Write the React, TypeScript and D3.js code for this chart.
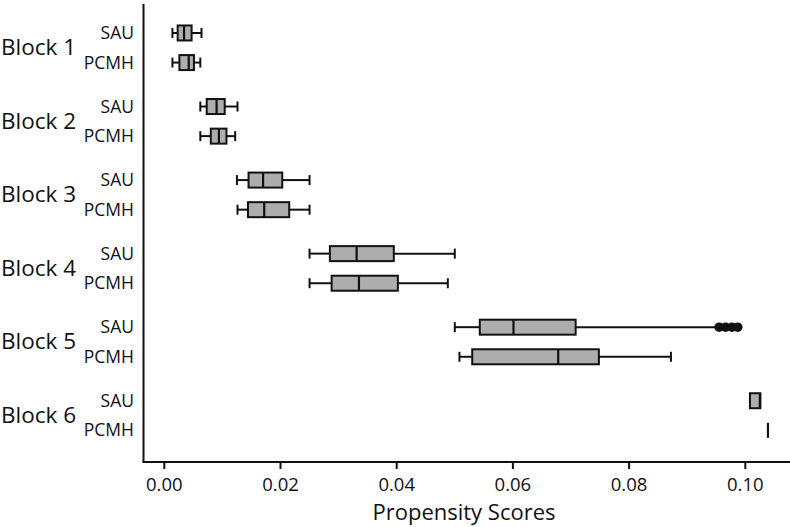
import React from "react";
import * as d3 from "d3";

const blocks = ["Block 1", "Block 2", "Block 3", "Block 4", "Block 5", "Block 6"];
const groups = ["SAU", "PCMH"];
// per block: [SAU, PCMH]
const whiskerLow = [[0.0014, 0.0014], [0.0062, 0.0062], [0.0125, 0.0126], [0.0250, 0.0250], [0.0500, 0.0508], [0.1008, 0.1039]];
const q1 = [[0.0023, 0.0026], [0.0073, 0.0080], [0.0145, 0.0144], [0.0285, 0.0288], [0.0543, 0.0530], [0.1008, 0.1039]];
const median = [[0.0034, 0.0042], [0.0090, 0.0094], [0.0170, 0.0172], [0.0331, 0.0335], [0.0601, 0.0678], [0.1025, 0.1039]];
const q3 = [[0.0047, 0.0051], [0.0104, 0.0107], [0.0203, 0.0215], [0.0395, 0.0402], [0.0708, 0.0748], [0.1026, 0.1039]];
const whiskerHigh = [[0.0064, 0.0062], [0.0126, 0.0122], [0.0250, 0.0250], [0.0500, 0.0488], [0.0951, 0.0872], [0.1026, 0.1039]];
const outliersBlock5SAU = [0.0955, 0.0966, 0.0977, 0.0987];
const xTicks = [0, 0.02, 0.04, 0.06, 0.08, 0.1];

const FONT = "'Open Sans', 'Noto Sans', sans-serif";

export default function App() {
  const W = 790, H = 527;
  const axisX = 143.5, axisY = 462;
  const x = d3.scaleLinear().domain([0, 0.1]).range([164.3, 745.3]);
  const yBlock = d3.scaleBand<string>().domain(blocks).range([11, 11 + 6 * 73.55]).padding(0);
  const rowY = (bi: number, gi: number) =>
    (yBlock(blocks[bi]) as number) + yBlock.bandwidth() / 2 + (gi === 0 ? -14.8 : 14.8);
  const boxH = 15;
  const capH = 10;

  const marks: React.ReactNode[] = [];
  blocks.forEach((b, bi) => {
    groups.forEach((g, gi) => {
      const cy = rowY(bi, gi);
      const lo = whiskerLow[bi][gi], a = q1[bi][gi], m = median[bi][gi], c = q3[bi][gi], hi = whiskerHigh[bi][gi];
      const key = `${bi}-${gi}`;
      if (lo < a) {
        marks.push(<line key={key + "wl"} x1={x(lo)} x2={x(a)} y1={cy} y2={cy} stroke="#111" strokeWidth={2} />);
        marks.push(<line key={key + "cl"} x1={x(lo)} x2={x(lo)} y1={cy - capH / 2} y2={cy + capH / 2} stroke="#111" strokeWidth={2} />);
      }
      if (hi > c) {
        marks.push(<line key={key + "wh"} x1={x(c)} x2={x(hi)} y1={cy} y2={cy} stroke="#111" strokeWidth={2} />);
        if (!(bi === 4 && gi === 0))
          marks.push(<line key={key + "ch"} x1={x(hi)} x2={x(hi)} y1={cy - capH / 2} y2={cy + capH / 2} stroke="#111" strokeWidth={2} />);
      }
      if (c > a) {
        marks.push(
          <rect key={key + "box"} x={x(a)} y={cy - boxH / 2} width={x(c) - x(a)} height={boxH} fill="#adadad" stroke="#111" strokeWidth={2} />
        );
      }
      marks.push(<line key={key + "med"} x1={x(m)} x2={x(m)} y1={cy - boxH / 2} y2={cy + boxH / 2} stroke="#111" strokeWidth={2.2} />);
    });
  });
  outliersBlock5SAU.forEach((v, i) => {
    marks.push(<circle key={"o" + i} cx={x(v)} cy={rowY(4, 0)} r={4.8} fill="#111" />);
  });

  return (
    <svg width={W} height={H} style={{ position: "absolute", left: 0, top: 0, background: "#fff" }} fontFamily={FONT}>
      <line x1={axisX} x2={axisX} y1={4} y2={axisY} stroke="#111" strokeWidth={2} />
      <line x1={axisX - 1} x2={W} y1={axisY} y2={axisY} stroke="#111" strokeWidth={2} />
      {xTicks.map((t) => (
        <g key={t}>
          <line x1={x(t)} x2={x(t)} y1={axisY} y2={axisY + 7} stroke="#111" strokeWidth={2} />
          <text x={x(t)} y={490.5} textAnchor="middle" fontSize={18.5} fill="#111">
            {d3.format(".2f")(t)}
          </text>
        </g>
      ))}
      <text x={464} y={520} textAnchor="middle" fontSize={22} fill="#111">Propensity Scores</text>
      {blocks.map((b) => (
        <text key={b} x={1} y={(yBlock(b) as number) + yBlock.bandwidth() / 2 + 7.5} fontSize={22.5} fill="#111">
          {b}
        </text>
      ))}
      {blocks.map((b, bi) =>
        groups.map((g, gi) => (
          <text key={b + g} x={134} y={rowY(bi, gi) + 6} textAnchor="end" fontSize={17.5} fill="#111">
            {g}
          </text>
        ))
      )}
      {marks}
    </svg>
  );
}
